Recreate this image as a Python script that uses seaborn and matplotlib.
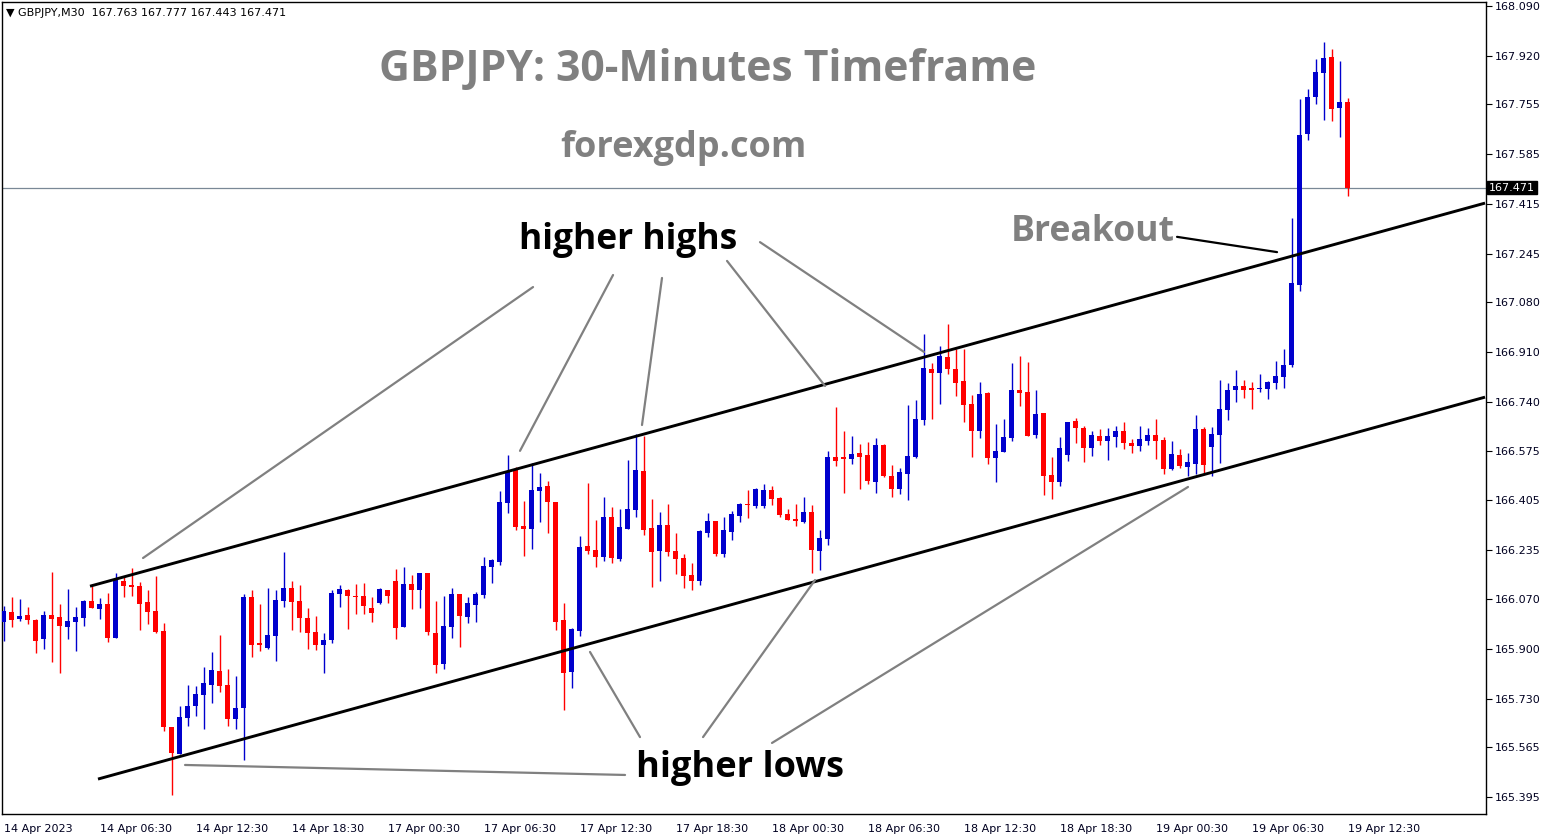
"""GBPJPY M30 candlestick chart with channel annotations -> out.png"""
import matplotlib
matplotlib.use("Agg")
import matplotlib.pyplot as plt
import matplotlib.transforms as mtransforms
import seaborn as sns

# OHLC per 30-minute candle (index 0 = 14 Apr 2023 00:30)
OPENS = [
    165.992, 166.024, 166.001, 166.015, 165.998, 165.934, 166.015, 166.008, 165.975, 165.992,
    166.006, 166.062, 166.035, 166.052, 165.937, 166.131, 166.117, 166.113, 166.059, 166.029,
    165.960, 165.633, 165.542, 165.665, 165.706, 165.743, 165.777, 165.824, 165.776, 165.661,
    165.699, 166.077, 165.920, 165.902, 165.943, 166.062, 166.107, 166.062, 166.004, 165.957,
    165.913, 165.930, 166.086, 166.100, 166.079, 166.079, 166.039, 166.056, 166.100, 166.131,
    165.974, 166.120, 166.100, 166.158, 165.953, 165.848, 165.975, 166.086, 166.009, 166.050,
    166.084, 166.179, 166.196, 166.397, 166.509, 166.318, 166.308, 166.437, 166.454, 166.400,
    165.998, 165.822, 165.960, 166.250, 166.236, 166.213, 166.349, 166.207, 166.309, 166.373,
    166.505, 166.311, 166.234, 166.321, 166.233, 166.210, 166.151, 166.132, 166.295, 166.335,
    166.224, 166.298, 166.353, 166.393, 166.387, 166.387, 166.441, 166.414, 166.360, 166.343,
    166.333, 166.367, 166.234, 166.275, 166.554, 166.554, 166.547, 166.568, 166.561, 166.469,
    166.595, 166.489, 166.445, 166.496, 166.554, 166.680, 166.853, 166.840, 166.894, 166.853,
    166.812, 166.734, 166.643, 166.771, 166.551, 166.571, 166.619, 166.782, 166.775, 166.629,
    166.703, 166.493, 166.469, 166.561, 166.676, 166.652, 166.585, 166.625, 166.609, 166.622,
    166.642, 166.601, 166.592, 166.609, 166.628, 166.611, 166.513, 166.561, 166.520, 166.530,
    166.648, 166.588, 166.629, 166.713, 166.781, 166.795, 166.788, 166.785, 166.785, 166.806,
    166.827, 166.866, 167.139, 167.653, 167.780, 167.861, 167.916, 167.742, 167.763,
]
HIGHS = [
    166.045, 166.076, 166.069, 166.042, 166.001, 166.029, 166.161, 166.052, 166.103, 166.042,
    166.066, 166.113, 166.073, 166.090, 166.158, 166.148, 166.175, 166.127, 166.100, 166.148,
    165.988, 165.634, 165.706, 165.776, 165.773, 165.838, 165.889, 165.947, 165.831, 165.807,
    166.087, 166.101, 166.053, 166.107, 166.100, 166.229, 166.131, 166.117, 166.039, 166.011,
    165.953, 166.100, 166.117, 166.103, 166.120, 166.124, 166.076, 166.107, 166.100, 166.171,
    166.178, 166.151, 166.158, 166.158, 166.062, 166.080, 166.108, 166.086, 166.077, 166.094,
    166.212, 166.207, 166.437, 166.560, 166.520, 166.403, 166.532, 166.498, 166.471, 166.400,
    166.056, 165.971, 166.284, 166.464, 166.338, 166.417, 166.383, 166.376, 166.543, 166.631,
    166.625, 166.410, 166.366, 166.393, 166.294, 166.223, 166.192, 166.304, 166.362, 166.335,
    166.349, 166.369, 166.396, 166.441, 166.447, 166.461, 166.454, 166.418, 166.377, 166.393,
    166.418, 166.390, 166.305, 166.574, 166.724, 166.643, 166.626, 166.598, 166.605, 166.619,
    166.598, 166.527, 166.517, 166.731, 166.748, 166.972, 166.873, 166.931, 167.006, 166.921,
    166.921, 166.764, 166.809, 166.775, 166.666, 166.683, 166.874, 166.898, 166.878, 166.782,
    166.703, 166.554, 166.622, 166.672, 166.686, 166.659, 166.642, 166.649, 166.652, 166.659,
    166.672, 166.614, 166.659, 166.652, 166.682, 166.621, 166.608, 166.581, 166.568, 166.696,
    166.655, 166.655, 166.815, 166.805, 166.849, 166.815, 166.809, 166.836, 166.812, 166.880,
    166.921, 167.367, 167.773, 167.807, 167.909, 167.967, 167.943, 167.902, 167.777,
]
LOWS = [
    165.927, 165.975, 165.994, 165.984, 165.885, 165.899, 165.855, 165.818, 165.934, 165.893,
    165.978, 166.038, 166.001, 165.924, 165.935, 166.077, 166.080, 165.965, 165.985, 165.954,
    165.620, 165.401, 165.541, 165.637, 165.672, 165.627, 165.716, 165.753, 165.638, 165.627,
    165.522, 165.873, 165.893, 165.899, 165.858, 166.042, 165.964, 165.957, 165.899, 165.895,
    165.817, 165.919, 166.042, 165.967, 166.018, 166.018, 165.991, 166.052, 166.056, 165.933,
    165.974, 166.035, 166.039, 165.947, 165.817, 165.831, 165.937, 165.907, 165.988, 165.992,
    166.074, 166.125, 166.186, 166.363, 166.305, 166.217, 166.240, 166.333, 166.294, 165.964,
    165.692, 165.767, 165.943, 166.224, 166.178, 166.200, 166.193, 166.200, 166.308, 166.350,
    166.288, 166.111, 166.132, 166.217, 166.155, 166.108, 166.101, 166.118, 166.281, 166.217,
    166.213, 166.271, 166.333, 166.346, 166.380, 166.380, 166.390, 166.350, 166.338, 166.319,
    166.329, 166.159, 166.169, 166.254, 166.523, 166.431, 166.530, 166.445, 166.462, 166.431,
    166.486, 166.418, 166.428, 166.408, 166.551, 166.663, 166.683, 166.735, 166.836, 166.761,
    166.673, 166.554, 166.619, 166.530, 166.469, 166.571, 166.609, 166.728, 166.626, 166.619,
    166.425, 166.411, 166.454, 166.540, 166.602, 166.537, 166.557, 166.595, 166.544, 166.588,
    166.581, 166.568, 166.574, 166.595, 166.547, 166.496, 166.510, 166.517, 166.489, 166.496,
    166.498, 166.489, 166.534, 166.679, 166.741, 166.755, 166.717, 166.775, 166.752, 166.786,
    166.789, 166.861, 167.120, 167.633, 167.756, 167.701, 167.698, 167.643, 167.443,
]
CLOSES = [
    166.029, 165.998, 166.011, 165.998, 165.927, 166.015, 166.002, 165.978, 165.994, 166.008,
    166.062, 166.040, 166.052, 165.937, 166.134, 166.115, 166.110, 166.053, 166.026, 165.958,
    165.634, 165.546, 165.667, 165.706, 165.746, 165.783, 165.827, 165.774, 165.661, 165.699,
    166.077, 165.914, 165.911, 165.947, 166.066, 166.107, 166.059, 166.004, 165.953, 165.913,
    165.930, 166.090, 166.103, 166.079, 166.076, 166.045, 166.021, 166.103, 166.079, 165.970,
    166.120, 166.100, 166.158, 165.957, 165.844, 165.977, 166.086, 166.012, 166.055, 166.086,
    166.182, 166.202, 166.400, 166.503, 166.315, 166.308, 166.441, 166.451, 166.400, 165.991,
    165.818, 165.967, 166.246, 166.233, 166.212, 166.349, 166.210, 166.315, 166.376, 166.509,
    166.305, 166.230, 166.321, 166.230, 166.207, 166.149, 166.132, 166.301, 166.335, 166.224,
    166.304, 166.359, 166.393, 166.390, 166.444, 166.441, 166.411, 166.356, 166.339, 166.336,
    166.367, 166.237, 166.278, 166.554, 166.540, 166.547, 166.564, 166.554, 166.472, 166.595,
    166.489, 166.445, 166.503, 166.557, 166.682, 166.856, 166.840, 166.897, 166.853, 166.805,
    166.731, 166.643, 166.768, 166.551, 166.573, 166.622, 166.782, 166.772, 166.626, 166.699,
    166.489, 166.469, 166.584, 166.672, 166.653, 166.585, 166.628, 166.609, 166.625, 166.642,
    166.602, 166.592, 166.614, 166.628, 166.609, 166.513, 166.563, 166.523, 166.537, 166.648,
    166.527, 166.632, 166.717, 166.781, 166.795, 166.781, 166.781, 166.788, 166.809, 166.829,
    166.866, 167.146, 167.650, 167.780, 167.865, 167.912, 167.739, 167.763, 167.471,
]

X_LABELS = [
    "14 Apr 2023", "14 Apr 06:30", "14 Apr 12:30", "14 Apr 18:30", "17 Apr 00:30",
    "17 Apr 06:30", "17 Apr 12:30", "17 Apr 18:30", "18 Apr 00:30", "18 Apr 06:30",
    "18 Apr 12:30", "18 Apr 18:30", "19 Apr 00:30", "19 Apr 06:30", "19 Apr 12:30",
]
Y_TICKS = [168.090, 167.920, 167.755, 167.585, 167.415, 167.245, 167.080, 166.910,
           166.740, 166.575, 166.405, 166.235, 166.070, 165.900, 165.730, 165.565, 165.395]

# drawn objects, (candle index, price) pairs
CHANNEL_UPPER = ([10.81, 185.19], [166.113, 167.418])
CHANNEL_LOWER = ([11.81, 185.19], [165.456, 166.757])
HH_LINES = [
    ([66.19, 17.44], [167.132, 166.209]),
    ([76.19, 64.56], [167.173, 166.574]),
    ([82.31, 79.81], [167.163, 166.662]),
    ([90.44, 102.69], [167.221, 166.795]),
    ([94.56, 115.06], [167.285, 166.911]),
]
HL_LINES = [
    ([77.69, 22.69], [165.470, 165.504]),
    ([79.56, 73.31], [165.599, 165.889]),
    ([87.44, 101.44], [165.599, 166.134]),
    ([96.06, 148.06], [165.579, 166.451]),
]
BREAKOUT_LINE = ([146.69, 159.19], [167.303, 167.251])
LAST_PRICE = 167.471

BULL = "#0000cd"
BEAR = "#ff0000"
GREY = "#808080"


def main() -> None:
    sns.set_theme(style="white")
    plt.rcParams["font.family"] = ["DejaVu Sans"]

    fig = plt.figure(figsize=(15.5, 8.4), dpi=100)
    ax = fig.add_axes([2 / 1550, 26 / 840, 1484 / 1550, 812 / 840])
    ax.set_xlim(-0.19, 185.31)
    ax.set_ylim(165.337, 168.103)

    # candles
    for i, (o, h, l, c) in enumerate(zip(OPENS, HIGHS, LOWS, CLOSES)):
        col = BULL if c >= o else BEAR
        ax.vlines(i, l, h, color=col, lw=1.0, zorder=3)
        ax.bar(i, max(abs(c - o), 0.004), bottom=min(o, c), width=0.6,
               color=col, linewidth=0, zorder=4)

    # last price line + label
    ax.axhline(LAST_PRICE, color="#7a8896", lw=0.9, zorder=2)
    trans = mtransforms.blended_transform_factory(ax.transAxes, ax.transData)
    ax.text(1.002, LAST_PRICE, f"{LAST_PRICE:.3f}", transform=trans, ha="left",
            va="center", fontsize=8, color="white", clip_on=False,
            bbox=dict(boxstyle="square,pad=0.15", fc="black", ec="black"))

    # channel
    for xs, ys in (CHANNEL_UPPER, CHANNEL_LOWER):
        ax.plot(xs, ys, color="black", lw=2.1, zorder=5, solid_capstyle="butt")

    # annotation pointers
    for xs, ys in HH_LINES + HL_LINES:
        ax.plot(xs, ys, color=GREY, lw=1.6, zorder=5)
    ax.plot(*BREAKOUT_LINE, color="black", lw=1.6, zorder=5)

    ax.text(78.06, 167.293, "higher highs", ha="center", va="center",
            fontsize=25.5, fontweight="bold", family="Open Sans", color="black")
    ax.text(92.06, 165.493, "higher lows", ha="center", va="center",
            fontsize=26, fontweight="bold", family="Open Sans", color="black")
    ax.text(136.19, 167.318, "Breakout", ha="center", va="center",
            fontsize=25.7, fontweight="bold", family="Open Sans", color=GREY)

    fig.text(708 / 1550, 1 - 69 / 840, "GBPJPY: 30-Minutes Timeframe", ha="center",
             va="center", fontsize=30.7, fontweight="bold", family="Open Sans", color=GREY)
    fig.text(683 / 1550, 1 - 148 / 840, "forexgdp.com", ha="center", va="center",
             fontsize=26, fontweight="bold", family="Open Sans", color=GREY)

    ax.text(0.003, 0.992, "\u25bc GBPJPY,M30  167.763 167.777 167.443 167.471",
            transform=ax.transAxes, ha="left", va="top", fontsize=8, color="black")

    # axes styling (MT4 look)
    ax.yaxis.tick_right()
    ax.set_yticks(Y_TICKS)
    ax.set_yticklabels([f"{v:.3f}" for v in Y_TICKS], fontsize=8, color="#000020")
    ax.set_xticks(range(0, len(X_LABELS) * 12, 12))
    ax.set_xticklabels(X_LABELS, fontsize=8, ha="left", color="#000020")
    ax.tick_params(axis="both", length=4, width=0.8, color="black", direction="out",
                   pad=2)
    ax.tick_params(axis="x", pad=3)
    for s in ax.spines.values():
        s.set_color("black")
        s.set_linewidth(1.0)
    ax.grid(False)

    fig.savefig("out.png", dpi=100, facecolor="white")
    plt.close(fig)


if __name__ == "__main__":
    main()
